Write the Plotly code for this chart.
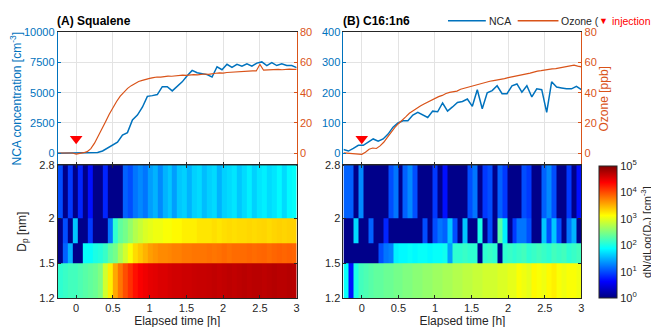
import numpy as np
import plotly.graph_objects as go

# ---------------- data ----------------
# NCA concentration time grid (h) and values (cm^-3)
t_nca = np.linspace(-0.25, 3.0, 49)
nca_A = [0, 0, 0, 0, 10, 10, 20, 40, 60, 180, 400, 650, 900, 1500, 1700, 2750, 3150, 3800,
         4700, 4760, 4850, 5500, 5500, 5150, 5500, 5900, 6400, 6850, 6650, 6600, 6500, 6300,
         7150, 6900, 7350, 7100, 7350, 7200, 7400, 7200, 7450, 7550, 7250, 7500, 7250, 7400,
         7250, 7250, 7080]
nca_B = [12, 7, 16, 26, 26, 37, 47, 40, 47, 63, 86, 100, 107, 107, 126, 135, 126, 118, 139,
         137, 166, 139, 153, 168, 171, 179, 155, 210, 147, 200, 207, 223, 197, 197, 223, 229,
         202, 223, 186, 213, 210, 135, 236, 219, 216, 213, 213, 221, 210]

# Ozone time grid (h) and values (ppb)
t_oz = np.round(np.linspace(-0.25, 3.0, 66), 3)
oz_A = [0.1, 0.0, 0.2, 0.0, 0.1, -0.6, -0.4, 0.3, 1.0, 3.0, 6.6, 11.0, 15.8, 20.8, 25.8, 30.2,
        34.2, 37.8, 40.6, 42.9, 44.7, 46.2, 47.4, 48.2, 49.0, 49.5, 50.0, 50.4, 50.3, 50.8,
        51.0, 50.9, 51.3, 51.2, 51.6, 51.5, 51.9, 52.0, 51.8, 52.3, 52.4, 52.2, 52.7, 52.9,
        53.1, 53.0, 53.4, 53.6, 53.5, 53.9, 54.1, 54.0, 54.3, 54.5, 54.4, 58.8, 54.9, 55.1,
        55.0, 55.3, 55.4, 55.2, 55.5, 55.6, 55.4, 55.5]
oz_B = [0.2, 0.0, 0.1, -0.3, -0.5, -0.8, 0.6, 2.6, 3.4, 3.1, 4.8, 7.2, 10.4, 14.1, 16.9, 19.5,
        22.1, 24.0, 26.4, 28.1, 29.8, 31.2, 32.5, 33.8, 34.6, 36.1, 37.4, 38.2, 39.5, 40.2,
        40.6, 41.1, 42.3, 43.0, 43.6, 44.5, 45.0, 45.8, 46.2, 47.3, 47.6, 48.0, 48.3, 48.9,
        49.3, 50.0, 50.4, 50.9, 51.6, 52.1, 52.5, 53.0, 53.8, 54.3, 54.6, 55.1, 55.4, 55.8,
        56.0, 56.5, 56.9, 57.3, 57.8, 58.2, 57.6, 57.1]

# Ozone injection time (h) and marker level (ppb)
inj_t = [0.0]
inj_level = [9.5]

# Size distribution: bin edges (time, h; diameter, nm) and log10(dN/dlogDp)
t_edges = np.linspace(-0.25, 3.0, 49)
dp_edges = [1.2, 1.5, 1.7, 2.0, 2.8]

A_r1 = [2.1, 2.15, 2.2, 2.2, 2.25, 2.3, 2.35, 2.4, 2.5, 2.9, 3.2, 3.55, 3.8, 4.0, 4.15, 4.3,
        4.4, 4.45, 4.5, 4.52, 4.55, 4.55, 4.58, 4.6, 4.6, 4.62, 4.62, 4.64, 4.65, 4.65, 4.66,
        4.68, 4.66, 4.68, 4.7, 4.68, 4.7, 4.72, 4.7, 4.72, 4.72, 4.7, 4.72, 4.74, 4.72, 4.72,
        4.74, 4.72]
A_r2 = [0.05, 1.1, 1.5, 0.05, 0.05, 1.9, 1.9, 2.0, 2.05, 2.15, 2.35, 2.45, 2.7, 2.9, 3.1, 3.3,
        3.4, 3.5, 3.6, 3.65, 3.7, 3.7, 3.72, 3.75, 3.75, 3.78, 3.78, 3.8, 3.8, 3.8, 3.82, 3.8,
        3.82, 3.85, 3.82, 3.85, 3.85, 3.85, 3.87, 3.85, 3.87, 3.88, 3.85, 3.88, 3.9, 3.88,
        3.9, 3.88]
A_r3 = [0.05, 1.0, 0.05, 1.6, 0.05, 0.05, 0.9, 0.05, 0.05, 0.05, 1.2, 2.1, 2.35, 2.45, 2.6,
        2.75, 2.85, 2.95, 3.0, 3.05, 3.05, 3.1, 3.1, 3.15, 3.15, 3.2, 3.2, 3.2, 3.25, 3.25,
        3.25, 3.28, 3.25, 3.28, 3.3, 3.28, 3.3, 3.3, 3.32, 3.3, 3.32, 3.33, 3.3, 3.33, 3.35,
        3.33, 3.35, 3.35]
A_r4 = [1.0, 0.05, 0.9, 0.05, 0.8, 0.05, 0.7, 0.05, 0.05, 0.8, 0.05, 0.05, 0.05, 1.1, 1.0, 1.2,
        1.3, 1.2, 1.4, 1.5, 1.3, 1.5, 1.6, 1.4, 1.6, 1.65, 1.5, 1.65, 1.7, 1.55, 1.65, 1.7, 1.5,
        1.65, 1.7, 1.75, 1.6, 1.7, 1.8, 1.65, 1.75, 1.8, 1.7, 1.75, 1.85, 1.7, 1.85, 1.9]

B_r1 = [1.9, 0.7, 2.0, 2.2, 2.25, 2.3, 2.35, 2.35, 2.4, 2.4, 2.45, 2.45, 2.5, 2.5, 2.55, 2.55,
        2.6, 2.6, 2.65, 2.65, 2.7, 2.7, 2.75, 2.75, 2.8, 2.8, 2.85, 2.85, 2.9, 2.9, 2.9, 2.95,
        2.95, 3.0, 3.0, 3.1, 3.05, 3.0, 3.15, 3.1, 3.05, 3.15, 3.2, 3.1, 3.05, 3.1, 3.1, 3.05]
B_r2 = [0.05, 0.05, 0.05, 0.05, 0.05, 0.05, 0.05, 1.0, 1.2, 1.25, 1.8, 1.85, 1.85, 1.9, 1.85,
        1.9, 1.9, 1.85, 1.9, 1.9, 1.95, 1.4, 2.1, 2.1, 2.15, 2.1, 2.1, 0.05, 2.1, 2.15, 2.1,
        0.05, 2.1, 2.15, 2.1, 2.15, 2.2, 2.1, 2.15, 2.2, 2.15, 2.1, 2.2, 2.15, 2.2, 2.1, 2.15,
        2.2]
B_r3 = [0.05, 0.05, 1.7, 0.05, 0.05, 1.1, 0.05, 0.05, 0.8, 0.05, 0.05, 0.05, 0.05, 0.05, 0.05,
        0.05, 1.0, 0.05, 1.0, 1.2, 1.1, 1.6, 1.0, 0.05, 1.6, 0.05, 0.05, 2.0, 0.05, 1.0, 0.05,
        2.3, 1.8, 0.05, 0.9, 1.2, 1.2, 1.0, 0.05, 0.05, 1.6, 1.0, 1.6, 1.0, 0.05, 1.2, 1.5, 0.05]
B_r4 = [1.1, 1.1, 0.05, 1.3, 0.05, 0.05, 0.05, 0.05, 0.05, 1.0, 1.2, 0.05, 1.1, 1.3, 1.0, 0.05,
        0.05, 0.05, 0.9, 0.05, 0.7, 0.05, 0.05, 0.05, 0.05, 1.0, 1.2, 0.05, 0.9, 1.0, 0.05, 1.1,
        0.9, 0.05, 0.05, 0.05, 1.0, 0.9, 0.05, 0.05, 1.1, 1.3, 1.0, 0.05, 0.05, 0.9, 0.05, 0.7]

time_ticks = [0, 0.5, 1, 1.5, 2, 2.5, 3]
time_ticktext = ["0", "0.5", "1", "1.5", "2", "2.5", "3"]
ncaA_ticks = [0, 2500, 5000, 7500, 10000]
ncaB_ticks = [0, 100, 200, 300, 400]
oz_ticks = [0, 20, 40, 60, 80]
dp_ticks = [1.2, 1.5, 2, 2.8]
dp_ticktext = ["1.2", "1.5", "2", "2.8"]
cb_ticks = [0, 1, 2, 3, 4, 5]
cb_ticktext = ["10<sup>%d</sup>" % k for k in cb_ticks]

# ---------------- style ----------------
W, H = 659, 327
FONT = "Arial"
BLUE = "#0072BD"
ORANGE = "#D95319"
DARK = "#262626"
GRID = "#e3e3e3"
JET = [[0.0, "#000080"], [0.125, "#0000ff"], [0.375, "#00ffff"],
       [0.625, "#ffff00"], [0.875, "#ff0000"], [1.0, "#800000"]]


def px_x(a, b):
    return [a / W, b / W]


def px_y(top, bottom):
    return [1 - bottom / H, 1 - top / H]


dom_xA = px_x(50, 290)
dom_xB = px_x(337, 576)
dom_top = px_y(19, 157)
dom_bot = px_y(157, 295)

fig = go.Figure()

fig.add_trace(go.Scatter(x=t_nca, y=nca_A, xaxis="x", yaxis="y", mode="lines",
                         line=dict(color=BLUE, width=1.5), name="NCA", showlegend=False))
fig.add_trace(go.Scatter(x=t_oz, y=oz_A, xaxis="x", yaxis="y2", mode="lines",
                         line=dict(color=ORANGE, width=1.2), name="Ozone", showlegend=False))
fig.add_trace(go.Scatter(x=inj_t, y=inj_level, xaxis="x", yaxis="y2", mode="markers",
                         marker=dict(symbol="triangle-down", color="#ff0000", size=11),
                         showlegend=False))
fig.add_trace(go.Scatter(x=t_nca, y=nca_B, xaxis="x2", yaxis="y3", mode="lines",
                         line=dict(color=BLUE, width=1.5), showlegend=False))
fig.add_trace(go.Scatter(x=t_oz, y=oz_B, xaxis="x2", yaxis="y4", mode="lines",
                         line=dict(color=ORANGE, width=1.2), showlegend=False))
fig.add_trace(go.Scatter(x=inj_t, y=inj_level, xaxis="x2", yaxis="y4", mode="markers",
                         marker=dict(symbol="triangle-down", color="#ff0000", size=11),
                         showlegend=False))

fig.add_trace(go.Heatmap(x=t_edges, y=dp_edges, z=[A_r1, A_r2, A_r3, A_r4],
                         xaxis="x3", yaxis="y5", coloraxis="coloraxis", showlegend=False))
fig.add_trace(go.Heatmap(x=t_edges, y=dp_edges, z=[B_r1, B_r2, B_r3, B_r4],
                         xaxis="x4", yaxis="y6", coloraxis="coloraxis", showlegend=False))

tickfont = dict(family=FONT, size=11, color=DARK)

top_x = dict(range=[-0.25, 3], tickvals=time_ticks, showticklabels=False, showgrid=True,
             gridcolor=GRID, gridwidth=1, ticks="inside", ticklen=3, tickcolor=DARK,
             showline=True, linecolor=DARK, linewidth=1, mirror=True, zeroline=False)
bot_x = dict(range=[-0.25, 3], tickvals=time_ticks, ticktext=time_ticktext, showgrid=False,
             ticks="inside", ticklen=3, tickcolor=DARK, showline=True, linecolor=DARK,
             linewidth=1, mirror="ticks", zeroline=False, tickfont=tickfont,
             title=dict(text="Elapsed time [h]", font=dict(family=FONT, size=12, color=DARK),
                        standoff=2))
bot_y = dict(type="log", range=[np.log10(1.2), np.log10(2.8)], tickvals=dp_ticks,
             ticktext=dp_ticktext, ticks="inside", ticklen=3, tickcolor=DARK, showline=True,
             linecolor=DARK, linewidth=1, mirror="ticks", showgrid=False, zeroline=False,
             tickfont=tickfont)

nca_common = dict(ticks="inside", ticklen=3, tickcolor=BLUE, showline=True, linecolor=BLUE,
                  linewidth=1, showgrid=True, gridcolor=GRID, zeroline=False,
                  tickfont=dict(family=FONT, size=11, color=BLUE))
oz_common = dict(range=[-8, 80], tickvals=oz_ticks, ticktext=[str(v) for v in oz_ticks],
                 ticks="inside", ticklen=3,
                 tickcolor=ORANGE, showline=True, linecolor=ORANGE, linewidth=1,
                 showgrid=False, zeroline=False, side="right",
                 tickfont=dict(family=FONT, size=11, color=ORANGE))

# manual legend (top right)
LEG_Y = 1 - 7 / H
leg_shapes = [
    dict(type="line", xref="paper", yref="paper", x0=442 / W, x1=480 / W, y0=LEG_Y, y1=LEG_Y,
         line=dict(color=BLUE, width=1.5)),
    dict(type="line", xref="paper", yref="paper", x0=512 / W, x1=553 / W, y0=LEG_Y, y1=LEG_Y,
         line=dict(color=ORANGE, width=1.5)),
]


def leg_text(txt, xpx, color, anchor="left", size=10.5):
    return dict(text=txt, x=xpx / W, y=LEG_Y, xref="paper", yref="paper", xanchor=anchor,
                yanchor="middle", showarrow=False, borderpad=0,
                font=dict(family=FONT, size=size, color=color))


fig.update_layout(
    width=W, height=H, margin=dict(l=0, r=0, t=0, b=0),
    paper_bgcolor="white", plot_bgcolor="white",
    font=dict(family=FONT, size=11, color=DARK),
    showlegend=False,
    xaxis=dict(domain=dom_xA, anchor="y", **top_x),
    yaxis=dict(domain=dom_top, anchor="x", range=[-1000, 10000],
               tickvals=ncaA_ticks, ticktext=[str(v) for v in ncaA_ticks],
               title=dict(text="NCA concentration [cm<sup>-3</sup>]",
                          font=dict(family=FONT, size=12, color=BLUE), standoff=8),
               **nca_common),
    yaxis2=dict(overlaying="y", anchor="x", **oz_common),
    xaxis2=dict(domain=dom_xB, anchor="y3", **top_x),
    yaxis3=dict(domain=dom_top, anchor="x2", range=[-40, 400],
                tickvals=ncaB_ticks, ticktext=[str(v) for v in ncaB_ticks], **nca_common),
    yaxis4=dict(overlaying="y3", anchor="x2",
                title=dict(text="Ozone [ppb]", font=dict(family=FONT, size=12, color=ORANGE),
                           standoff=1),
                **oz_common),
    xaxis3=dict(domain=dom_xA, anchor="y5", **bot_x),
    yaxis5=dict(domain=dom_bot, anchor="x3",
                title=dict(text="D<sub>p</sub> [nm]", font=dict(family=FONT, size=12, color=DARK),
                           standoff=10),
                **bot_y),
    xaxis4=dict(domain=dom_xB, anchor="y6", **bot_x),
    yaxis6=dict(domain=dom_bot, anchor="x4", **bot_y),
    coloraxis=dict(
        colorscale=JET, cmin=0, cmax=5,
        colorbar=dict(x=594 / W, xanchor="left", y=1 - 226.5 / H, yanchor="middle",
                      len=137 / H, lenmode="fraction", thickness=18, thicknessmode="pixels",
                      outlinecolor=DARK, outlinewidth=1, tickvals=cb_ticks,
                      ticktext=cb_ticktext, ticks="", xpad=0, ypad=0,
                      tickfont=dict(family=FONT, size=11, color=DARK),
                      title=dict(text="dN/dLog(D<sub>p</sub>) [cm<sup>-3</sup>]", side="right",
                                 font=dict(family=FONT, size=11, color=DARK)))),
    shapes=leg_shapes,
    annotations=[
        dict(text="<b>(A) Squalene</b>", x=47 / W, y=1 - 7 / H, xref="paper", yref="paper",
             xanchor="left", yanchor="middle", showarrow=False,
             font=dict(family=FONT, size=12, color="black")),
        dict(text="<b>(B) C16:1n6</b>", x=335 / W, y=1 - 7 / H, xref="paper", yref="paper",
             xanchor="left", yanchor="middle", showarrow=False,
             font=dict(family=FONT, size=12, color="black")),
        leg_text("NCA", 482, DARK),
        leg_text("Ozone (", 555, DARK),
        leg_text("▼", 593, "#ff0000", size=9),
        leg_text("injection", 606, "#ff0000"),
        leg_text(")", 647, DARK),
    ],
)

fig.write_html("out.html")
